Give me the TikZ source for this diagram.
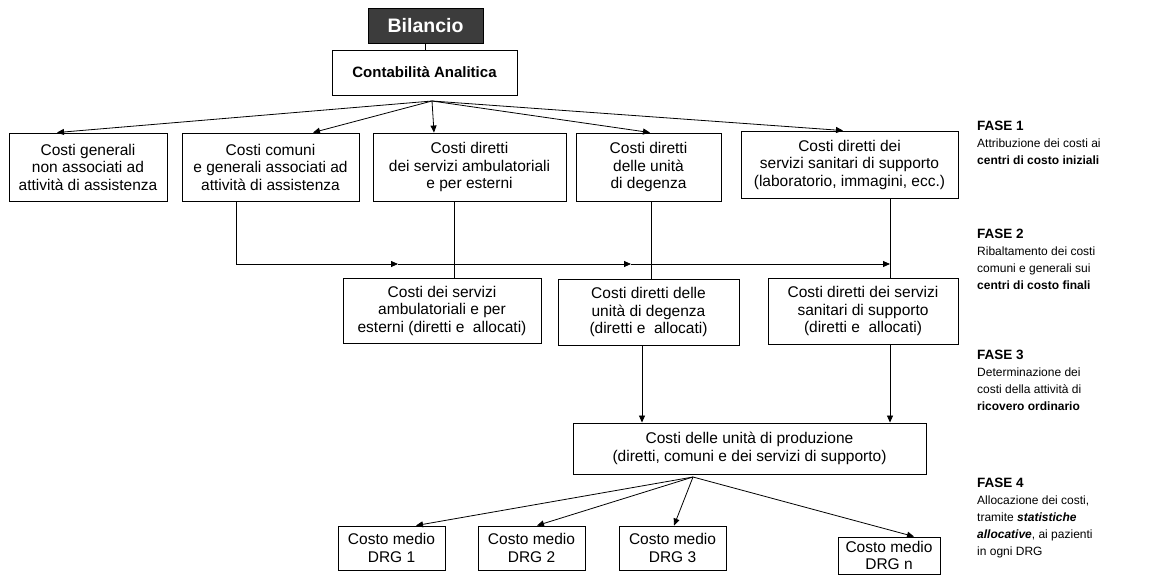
\documentclass[tikz,border=0pt]{standalone}
\usepackage{fontspec}
\setmainfont{Liberation Sans}
\usepackage{xcolor}
\usetikzlibrary{arrows.meta}
\definecolor{bilgray}{HTML}{3C3C3C}
\tikzset{
	box/.style={draw, line width=0.9pt, align=center, inner sep=1pt, font=\fontsize{15.5}{17.5}\selectfont},
	arr/.style={-{Triangle[length=7pt,width=6pt]}, line width=0.8pt},
	fase/.style={anchor=north west, align=left, inner sep=0pt, font=\fontsize{12}{17}\selectfont},
}

\begin{document}
\begin{tikzpicture}[x=1pt, y=-1pt]
			\useasboundingbox (0,0) rectangle (1156,575);
			\node[box, fill=bilgray, text=white, minimum width=115, minimum height=35, font=\fontsize{19.5}{22}\selectfont\bfseries] (bil) at (425.5,25.5) {Bilancio};
			\node[box, minimum width=185, minimum height=45, font=\fontsize{15}{17}\selectfont\bfseries] (ca) at (424.5,72.5) {Contabilità Analitica};
			\node[box, minimum width=158, minimum height=68] (gen) at (88,167) {Costi generali\\non associati ad\\attività di assistenza};
			\node[box, minimum width=177, minimum height=68] (com) at (270.5,167) {Costi comuni\\e generali associati ad\\attività di assistenza};
			\node[box, minimum width=193, minimum height=68] (amb) at (469.5,167) {Costi diretti\\dei servizi ambulatoriali\\e per esterni};
			\node[box, minimum width=145, minimum height=68] (deg) at (648.5,167) {Costi diretti\\delle unità\\di degenza};
			\node[box, minimum width=217, minimum height=67] (sup) at (849.5,164.5) {Costi diretti dei\\servizi sanitari di supporto\\(laboratorio, immagini, ecc.)};
			\node[box, minimum width=198, minimum height=65] (amb2) at (442,310.5) {Costi dei servizi\\ambulatoriali e per\\esterni (diretti e \ allocati)};
			\node[box, minimum width=181, minimum height=66] (deg2) at (648.5,312) {Costi diretti delle\\unità di degenza\\(diretti e \ allocati)};
			\node[box, minimum width=190, minimum height=66] (sup2) at (863,311) {Costi diretti dei servizi\\sanitari di supporto\\(diretti e \ allocati)};
			\node[box, minimum width=353, minimum height=51] (prod) at (749.5,448.5) {Costi delle unità di produzione\\(diretti, comuni e dei servizi di supporto)};
			\node[box, minimum width=107, minimum height=44] (drg1) at (391.5,548) {Costo medio\\DRG 1};
			\node[box, minimum width=107, minimum height=44] (drg2) at (531.5,548) {Costo medio\\DRG 2};
			\node[box, minimum width=107, minimum height=44] (drg3) at (672.5,548) {Costo medio\\DRG 3};
			\node[box, minimum width=102, minimum height=37] (drgn) at (889,555.5) {Costo medio\\DRG n};
			\node[fase] (f1) at (977,121) {\textbf{\fontsize{13.5}{17}\selectfont FASE 1}\\Attribuzione dei costi ai\\\textbf{centri di costo iniziali}};
			\node[fase] (f2) at (977,229) {\textbf{\fontsize{13.5}{17}\selectfont FASE 2}\\Ribaltamento dei costi\\comuni e generali sui\\\textbf{centri di costo finali}};
			\node[fase] (f3) at (977,350) {\textbf{\fontsize{13.5}{17}\selectfont FASE 3}\\Determinazione dei\\costi della attività di\\\textbf{ricovero ordinario}};
			\node[fase] (f4) at (977,478) {\textbf{\fontsize{13.5}{17}\selectfont FASE 4}\\Allocazione dei costi,\\tramite \textbf{\textit{statistiche}}\\\textbf{\textit{allocative}}, ai pazienti\\in ogni DRG};
			\coordinate (ca-out) at (432,101);
			\coordinate (m1) at (398,264);
			\coordinate (m2) at (631,264);
			\coordinate (m3) at (890,264);
			\coordinate (prod-out) at (693,477);
			\draw [line width=0.8pt] (bil.south) -- (bil.south |- ca.north);
			\draw [arr] (ca-out) -- (57,0 |- gen.north);
			\draw [arr] (ca-out) -- (313,0 |- com.north);
			\draw [arr] (ca-out) -- (434,0 |- amb.north);
			\draw [arr] (ca-out) -- (650,0 |- deg.north);
			\draw [arr] (ca-out) -- (843,0 |- sup.north);
			\draw [arr] (236,0 |- com.south) |- (m1);
			\draw [arr] (m1) -- (m2);
			\draw [arr] (m2) -- (m3);
			\draw [line width=0.8pt] (454,0 |- amb.south) -- (454,0 |- amb2.north);
			\draw [line width=0.8pt] (651,0 |- deg.south) -- (651,0 |- deg2.north);
			\draw [line width=0.8pt] (890,0 |- sup.south) -- (890,0 |- sup2.north);
			\draw [arr] (642,0 |- deg2.south) -- (642,0 |- prod.north);
			\draw [arr] (890,0 |- sup2.south) -- (890,0 |- prod.north);
			\draw [arr] (prod-out) -- (416,0 |- drg1.north);
			\draw [arr] (prod-out) -- (537,0 |- drg2.north);
			\draw [arr] (prod-out) -- (674,0 |- drg3.north);
			\draw [arr] (prod-out) -- (914,0 |- drgn.north);
		\end{tikzpicture}
\end{document}
